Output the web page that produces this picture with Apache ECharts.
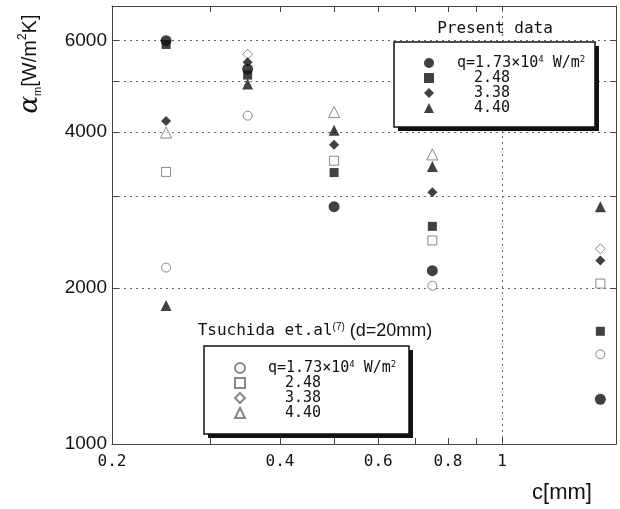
<!DOCTYPE html>
<html>
<head>
<meta charset="utf-8">
<script src="https://cdn.jsdelivr.net/npm/echarts@6/dist/echarts.min.js"></script>
<style>
  html, body { margin: 0; padding: 0; background: #fff; }
  #chart { width: 620px; height: 509px; }
</style>
</head>
<body>
<div id="chart"></div>
<script>
// c [mm] where the present data was measured
const cPresent = [0.25, 0.35, 0.5, 0.75, 1.5];
// present data, alpha_m [W/m2K] for each heat flux
const q173 = [6000, 5290, 2870, 2160, 1220];
const q248 = [5900, 5150, 3340, 2630, 1650];
const q338 = [4200, 5450, 3780, 3060, 2260];
const q440 = [1850, 4950, 4030, 3430, 2870];

// Tsuchida et.al (7), only the points that can be seen in the figure
const tsuC173 = [0.25, 0.35, 0.75, 1.5];
const tsu173 = [2190, 4300, 2020, 1490];
const tsuC248 = [0.25, 0.5, 0.75, 1.5];
const tsu248 = [3350, 3520, 2470, 2040];
const tsuC338 = [0.35, 1.5];
const tsu338 = [5650, 2380];
const tsuC440 = [0.25, 0.5, 0.75];
const tsu440 = [3990, 4370, 3620];

// axis ticks / labels
const xTicks = [0.2, 0.3, 0.4, 0.5, 0.6, 0.7, 0.8, 0.9, 1];
const xLabels = [0.2, 0.4, 0.6, 0.8, 1];
const yTicks = [1000, 2000, 3000, 4000, 5000, 6000];
const yLabels = [1000, 2000, 4000, 6000];

const legendNames = {
  P1: '{lead|}{t|q=1.73×10}{sup|4}{t| W/m}{sup|2}',
  P2: '{lead|}{pad|}{t|2.48}',
  P3: '{lead|}{pad|}{t|3.38}',
  P4: '{lead|}{pad|}{t|4.40}',
  T1: '{lead|}{t|q=1.73×10}{sup|4}{t| W/m}{sup|2}',
  T2: '{lead|}{pad|}{t|2.48}',
  T3: '{lead|}{pad|}{t|3.38}',
  T4: '{lead|}{pad|}{t|4.40}'
};

const MONO = '"DejaVu Sans Mono", monospace';
const NARROW = '"Liberation Sans Narrow", "Liberation Sans", sans-serif';
const INK = '#111';
const OPEN = '#6a6a6a';

const pts = (xs, ys) => xs.map((x, i) => [x, ys[i]]);

const legendRich = {
  t: { fontFamily: MONO, fontSize: 15, lineHeight: 16, color: INK },
  sup: { fontFamily: MONO, fontSize: 9, lineHeight: 10, verticalAlign: 'top', color: INK },
  lead: { width: 18 },
  pad: { width: 17 }
};

function filledSeries(name, symbol, size, ys) {
  return {
    name, type: 'scatter', symbol, symbolSize: size,
    data: pts(cPresent, ys),
    itemStyle: { color: INK },
    z: 4
  };
}

function openSeries(name, symbol, size, xs, ys) {
  return {
    name, type: 'scatter', symbol, symbolSize: size,
    data: pts(xs, ys),
    itemStyle: { color: '#fff', borderColor: OPEN, borderWidth: 1 },
    z: 3
  };
}

// legend frame with a hard black drop shadow
function legendBox(x, y, w, h) {
  return [
    { type: 'rect', z: 10, silent: true, shape: { x: x + 4, y: y + 4, width: w, height: h }, style: { fill: INK } },
    { type: 'rect', z: 11, silent: true, shape: { x, y, width: w, height: h }, style: { fill: '#fff', stroke: INK, lineWidth: 1.5 } }
  ];
}

const axisLineStyle = { color: '#444', width: 1 };

const chart = echarts.init(document.getElementById('chart'));

const series = [
  openSeries('T1', 'circle', 9, tsuC173, tsu173),
  openSeries('T2', 'rect', 9, tsuC248, tsu248),
  openSeries('T3', 'diamond', 10, tsuC338, tsu338),
  openSeries('T4', 'triangle', 11, tsuC440, tsu440),
  filledSeries('P1', 'circle', 11, q173),
  filledSeries('P2', 'rect', 9, q248),
  filledSeries('P3', 'diamond', 10, q338),
  filledSeries('P4', 'triangle', 11, q440)
];

// vertical dotted line at c = 1
series[0].markLine = {
  silent: true,
  symbol: 'none',
  label: { show: false },
  lineStyle: { type: [2, 4], color: '#666', width: 1 },
  data: [{ xAxis: 1 }]
};

const legendBase = {
  orient: 'vertical',
  z: 20,
  itemWidth: 10, itemHeight: 10, itemGap: 0,
  backgroundColor: 'transparent', borderWidth: 0,
  selectedMode: false,
  formatter: n => legendNames[n],
  textStyle: { rich: legendRich }
};

const option = {
  animation: false,
  backgroundColor: '#fff',
  grid: { left: 112, right: 4, top: 6, bottom: 65 },
  xAxis: [
    {
      type: 'log', logBase: 10, min: 0.2, max: 1.6, position: 'bottom',
      axisLine: { lineStyle: axisLineStyle },
      axisTick: { inside: true, length: 6, customValues: xTicks, lineStyle: axisLineStyle },
      axisLabel: {
        customValues: xLabels, margin: 10,
        fontFamily: MONO, fontSize: 16, color: INK,
        formatter: v => String(Math.round(v * 10) / 10)
      },
      splitLine: { show: false }
    },
    {
      type: 'log', logBase: 10, min: 0.2, max: 1.6, position: 'top',
      axisLine: { lineStyle: axisLineStyle },
      axisTick: { inside: true, length: 6, customValues: xTicks, lineStyle: axisLineStyle },
      axisLabel: { show: false },
      splitLine: { show: false }
    }
  ],
  yAxis: [
    {
      type: 'log', logBase: 10, min: 1000, max: 7000, position: 'left',
      axisLine: { show: true, lineStyle: axisLineStyle },
      axisTick: { show: true, inside: true, length: 6, customValues: yTicks, lineStyle: axisLineStyle },
      axisLabel: {
        customValues: yLabels, margin: 5,
        fontFamily: NARROW, fontSize: 19, color: INK,
        formatter: v => String(Math.round(v))
      },
      splitLine: { show: true, lineStyle: { type: [2, 4], color: '#666', width: 1 } }
    },
    {
      type: 'log', logBase: 10, min: 1000, max: 7000, position: 'right',
      axisLine: { show: true, lineStyle: axisLineStyle },
      axisTick: { show: true, inside: true, length: 6, customValues: yTicks, lineStyle: axisLineStyle },
      axisLabel: { show: false },
      splitLine: { show: false }
    }
  ],
  legend: [
    Object.assign({}, legendBase, {
      data: ['P1', 'P2', 'P3', 'P4'],
      left: 394, top: 42,
      padding: [13, 12, 8, 30]
    }),
    Object.assign({}, legendBase, {
      data: ['T1', 'T2', 'T3', 'T4'],
      left: 204, top: 346,
      padding: [14, 12, 11, 30]
    })
  ],
  graphic: [
    ...legendBox(394, 42, 201, 85),
    ...legendBox(204, 346, 205, 88),
    {
      type: 'text', x: 495, y: 29, silent: true,
      style: { text: 'Present data', fontFamily: MONO, fontSize: 16, fill: INK, align: 'center', verticalAlign: 'middle' }
    },
    {
      type: 'text', x: 315, y: 331, silent: true,
      style: {
        text: '{t|Tsuchida et.al}{sup|(7)}{n| (d=20mm)}',
        align: 'center', verticalAlign: 'middle',
        rich: {
          t: { fontFamily: MONO, fontSize: 16, lineHeight: 18, fill: INK },
          sup: { fontFamily: NARROW, fontSize: 10, lineHeight: 10, verticalAlign: 'top', fill: INK },
          n: { fontFamily: NARROW, fontSize: 18, lineHeight: 18, fill: INK }
        }
      }
    },
    {
      type: 'text', x: 30, y: 64, rotation: Math.PI / 2, silent: true,
      style: {
        text: '{a|α}{sub|m}{t|[W/m}{sup|2}{t|K]}',
        align: 'center', verticalAlign: 'middle',
        rich: {
          a: { fontFamily: '"DejaVu Serif", serif', fontStyle: 'italic', fontSize: 26, lineHeight: 26, fill: INK },
          sub: { fontFamily: NARROW, fontSize: 11, lineHeight: 11, verticalAlign: 'bottom', fill: INK },
          t: { fontFamily: NARROW, fontSize: 20, lineHeight: 26, fill: INK },
          sup: { fontFamily: NARROW, fontSize: 12, lineHeight: 12, verticalAlign: 'top', fill: INK }
        }
      }
    },
    {
      type: 'text', x: 562, y: 493, silent: true,
      style: { text: 'c[mm]', fontFamily: '"Liberation Sans", sans-serif', fontSize: 22, fill: INK, align: 'center', verticalAlign: 'middle' }
    }
  ],
  series
};

chart.setOption(option);
</script>
</body>
</html>
